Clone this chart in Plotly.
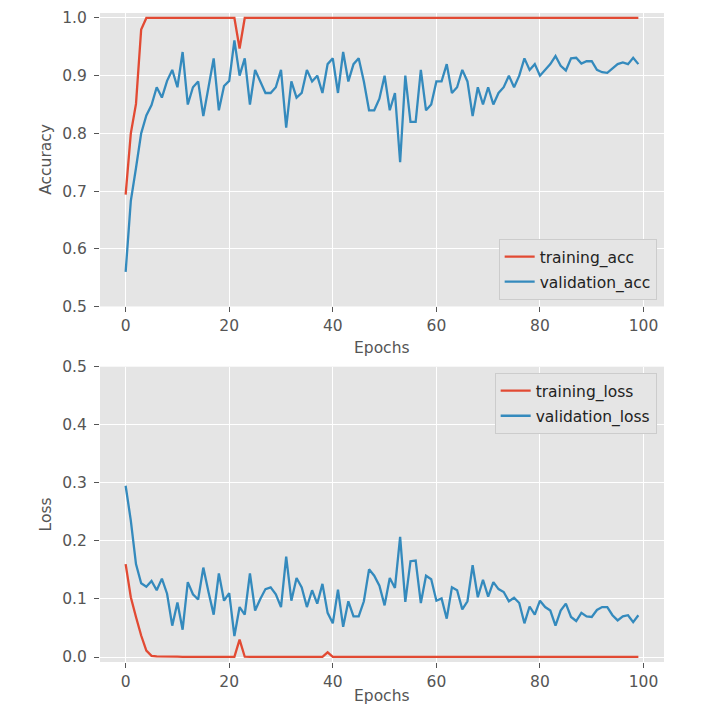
import plotly.graph_objects as go

epochs = list(range(100))

training_acc = [0.694, 0.80, 0.851, 0.98, 1.0, 1.0, 1.0, 1.0, 1.0, 1.0,
                1.0, 1.0, 1.0, 1.0, 1.0, 1.0, 1.0, 1.0, 1.0, 1.0,
                1.0, 1.0, 0.947, 1.0, 1.0, 1.0, 1.0, 1.0, 1.0, 1.0] + [1.0] * 70

validation_acc = [0.56, 0.683, 0.74, 0.80, 0.831, 0.849, 0.88, 0.862, 0.891, 0.91,
                  0.88, 0.941, 0.85, 0.88, 0.89, 0.83, 0.88, 0.93, 0.84, 0.882,
                  0.891, 0.961, 0.90, 0.93, 0.85, 0.91, 0.89, 0.87, 0.87, 0.88,
                  0.91, 0.81, 0.89, 0.862, 0.87, 0.91, 0.89, 0.90, 0.87, 0.92,
                  0.93, 0.87, 0.941, 0.89, 0.92, 0.93, 0.89, 0.84, 0.84, 0.86,
                  0.90, 0.84, 0.87, 0.75, 0.90, 0.82, 0.82, 0.91, 0.84, 0.85,
                  0.89, 0.89, 0.92, 0.87, 0.88, 0.91, 0.89, 0.83, 0.88, 0.85,
                  0.88, 0.85, 0.87, 0.88, 0.90, 0.88, 0.90, 0.93, 0.91, 0.92,
                  0.90, 0.91, 0.92, 0.934, 0.917, 0.909, 0.93, 0.931, 0.921, 0.925,
                  0.925, 0.91, 0.906, 0.905, 0.913, 0.92, 0.923, 0.92, 0.931, 0.92]

training_loss = [0.16, 0.103, 0.069, 0.037, 0.011, 0.002, 0.001, 0.0006, 0.0005, 0.0005,
                 0.0005, 0.0004, 0.0004, 0.0004, 0.0004, 0.0004, 0.0003, 0.0003, 0.0003, 0.0003,
                 0.0003, 0.0003, 0.030, 0.0005, 0.0004, 0.0003, 0.0003, 0.0003, 0.0003, 0.0003,
                 0.0003, 0.0003, 0.0003, 0.0003, 0.0003, 0.0003, 0.0003, 0.0003, 0.0003, 0.008] + [0.0002] * 60

validation_loss = [0.295, 0.235, 0.16, 0.127, 0.121, 0.131, 0.115, 0.135, 0.109, 0.054,
                   0.094, 0.047, 0.129, 0.108, 0.099, 0.154, 0.112, 0.073, 0.144, 0.097,
                   0.110, 0.036, 0.086, 0.073, 0.144, 0.080, 0.100, 0.117, 0.120, 0.108,
                   0.086, 0.173, 0.097, 0.136, 0.120, 0.086, 0.115, 0.092, 0.126, 0.076,
                   0.058, 0.116, 0.052, 0.096, 0.070, 0.070, 0.096, 0.151, 0.140, 0.123,
                   0.089, 0.136, 0.119, 0.207, 0.095, 0.165, 0.166, 0.093, 0.140, 0.134,
                   0.097, 0.101, 0.066, 0.120, 0.115, 0.082, 0.096, 0.158, 0.103, 0.133,
                   0.104, 0.129, 0.117, 0.112, 0.096, 0.102, 0.093, 0.058, 0.087, 0.073,
                   0.097, 0.086, 0.080, 0.054, 0.080, 0.092, 0.069, 0.062, 0.076, 0.070,
                   0.069, 0.081, 0.086, 0.086, 0.072, 0.063, 0.070, 0.072, 0.060, 0.072]

acc_ticks = [0.5, 0.6, 0.7, 0.8, 0.9, 1.0]
loss_ticks = [0.0, 0.1, 0.2, 0.3, 0.4, 0.5]
x_ticks = [0, 20, 40, 60, 80, 100]

RED = "#E24A33"
BLUE = "#348ABD"
FONT = "DejaVu Sans"
FS = 15.5
LW = 2.3

fig = go.Figure()
fig.add_trace(go.Scatter(x=epochs, y=training_acc, mode="lines", name="training_acc",
                         line=dict(color=RED, width=LW), xaxis="x", yaxis="y",
                         legend="legend", legendgroup="a"))
fig.add_trace(go.Scatter(x=epochs, y=validation_acc, mode="lines", name="validation_acc",
                         line=dict(color=BLUE, width=LW), xaxis="x", yaxis="y",
                         legend="legend", legendgroup="b"))
fig.add_trace(go.Scatter(x=epochs, y=training_loss, mode="lines", name="training_loss",
                         line=dict(color=RED, width=LW), xaxis="x2", yaxis="y2",
                         legend="legend2", legendgroup="c"))
fig.add_trace(go.Scatter(x=epochs, y=validation_loss, mode="lines", name="validation_loss",
                         line=dict(color=BLUE, width=LW), xaxis="x2", yaxis="y2",
                         legend="legend2", legendgroup="d"))

axis_common = dict(
    showgrid=True, gridcolor="white", gridwidth=1.2, zeroline=False, showline=False,
    ticks="outside", ticklen=5, tickwidth=1, tickcolor="#555555",
    tickfont=dict(family=FONT, size=FS, color="#555555"),
    automargin=False, ticklabeloverflow="allow",
)
title_font = dict(family=FONT, size=FS, color="#555555")

TOP_DOM = [0.5478, 1.0]
BOT_DOM = [0.0, 0.4550]

fig.update_layout(
    width=690, height=700,
    paper_bgcolor="white", plot_bgcolor="#E5E5E5",
    margin=dict(l=92, r=34, t=5, b=46),
    font=dict(family=FONT, color="#555555"),
    xaxis=dict(domain=[0, 1], anchor="y", range=[-4.95, 103.95], tickvals=x_ticks,
               ticklabelstandoff=0, **axis_common),
    yaxis=dict(domain=TOP_DOM, anchor="x", range=[0.5, 1.0086], tickvals=acc_ticks,
               tickformat=".1f", ticklabelstandoff=4, **axis_common),
    xaxis2=dict(domain=[0, 1], anchor="y2", range=[-4.95, 103.95], tickvals=x_ticks,
                ticklabelstandoff=0, **axis_common),
    yaxis2=dict(domain=BOT_DOM, anchor="x2", range=[-0.0086, 0.5], tickvals=loss_ticks,
                tickformat=".1f", ticklabelstandoff=4, **axis_common),
    legend=dict(x=0.987, y=0.5578, xanchor="right", yanchor="bottom",
                bgcolor="#E5E5E5", bordercolor="#CCCCCC", borderwidth=1,
                font=dict(family=FONT, size=FS, color="#222222"), tracegroupgap=2),
    legend2=dict(x=0.987, y=0.4453, xanchor="right", yanchor="top",
                 bgcolor="#E5E5E5", bordercolor="#CCCCCC", borderwidth=1,
                 font=dict(family=FONT, size=FS, color="#222222"), tracegroupgap=2),
    annotations=[
        dict(text="Epochs", xref="paper", yref="paper", x=0.5, y=0.4838,
             xanchor="center", yanchor="middle", showarrow=False, font=title_font),
        dict(text="Epochs", xref="paper", yref="paper", x=0.5, y=-0.0693,
             xanchor="center", yanchor="bottom", showarrow=False, font=title_font),
        dict(text="Accuracy", xref="paper", yref="paper", x=-0.0957,
             y=(TOP_DOM[0] + TOP_DOM[1]) / 2, textangle=-90,
             xanchor="center", yanchor="middle", showarrow=False, font=title_font),
        dict(text="Loss", xref="paper", yref="paper", x=-0.0957,
             y=(BOT_DOM[0] + BOT_DOM[1]) / 2, textangle=-90,
             xanchor="center", yanchor="middle", showarrow=False, font=title_font),
    ],
)

fig.write_html("out.html")
